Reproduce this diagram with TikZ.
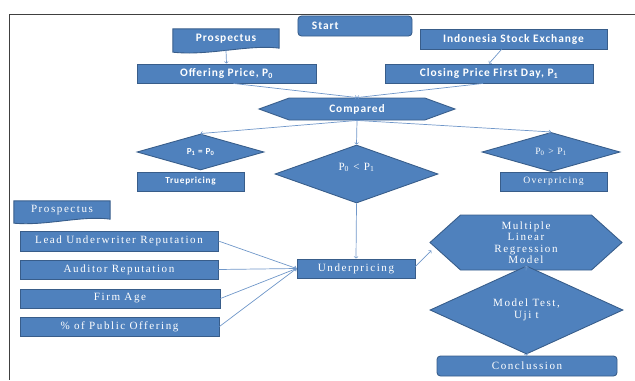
\documentclass[tikz,border=0pt]{standalone}
\usepackage{fontspec}
\setmainfont{Liberation Serif}
\newfontfamily\calfont[LetterSpace=8]{Carlito}
\newfontfamily\timfont[LetterSpace=14]{Liberation Serif}
\usetikzlibrary{shapes.geometric,shapes.symbols,calc,backgrounds}

\definecolor{boxblue}{HTML}{4F81BD}
\definecolor{boxedge}{HTML}{385D8A}
\definecolor{linkblue}{HTML}{7097C9}
\definecolor{framegray}{HTML}{404040}

\tikzset{
  sz/.style 2 args={minimum width=#1*0.04cm, minimum height=#2*0.04cm},
  base/.style={fill=boxblue, draw=boxedge, line width=1pt, text=white, inner sep=1pt},
  topfont/.style={font=\calfont\bfseries\fontsize{13}{14}\selectfont},
  lowfont/.style={font=\timfont\fontsize{12.6}{13}\selectfont},
  smallfont/.style={font=\calfont\bfseries\fontsize{10.5}{12}\selectfont},
  topbox/.style={base, topfont},
  lowbox/.style={base, lowfont},
  rbox/.style={rounded corners=4pt},
  docnode/.style={inner sep=1pt, text=white},
  docfill/.style={fill=boxblue, draw=boxedge, line width=1pt},
  decide/.style={base, diamond, inner sep=0pt},
  hexa/.style={base, signal, signal to=east and west, inner sep=0pt},
  link/.style={draw=linkblue, line width=0.8pt},
}

\begin{document}
\begin{tikzpicture}[x=0.04cm, y=-0.04cm]
    \useasboundingbox (0,0) rectangle (635,380);
    \draw[framegray, line width=0.8pt] (635,14) -- (9,14) -- (9,380);

    % top row
    \node[topbox, rbox, minimum height=0.8cm, text width=3.44cm, inner xsep=0.56cm, align=left] (start) at (355,26) {Start};
    \node[docnode, topfont, sz={106}{19}] (pros1) at (226,38.5) {Prospectus};
    \node[topbox, sz={187}{20}] (ise) at (513.5,39) {Indonesia Stock Exchange};
    \node[topbox, sz={179}{19}] (offer) at (226.5,73.5) {Offering Price, P\textsubscript{0}};
    \node[topbox, sz={208}{19}] (close) at (489,73.5) {Closing Price First Day, P\textsubscript{1}};
    \node[hexa, topfont, signal pointer angle=40, sz={196}{22}] (compared) at (357,109) {Compared};

    % decisions
    \node[decide, smallfont, sz={127}{36}] (eqdia) at (200.5,152) {P\textsubscript{1} = P\textsubscript{0}};
    \node[base, smallfont, sz={107}{19}] (true) at (190.5,181.5) {Truepricing};
    \node[decide, sz={163}{46}, lowfont, align=center] (ltdia) at (356.5,174) {P\textsubscript{0} < P\textsubscript{1}\\[4pt]};
    \node[decide, sz={138}{36}, font=\timfont\fontsize{11}{12}\selectfont] (gtdia) at (551,152) {P\textsubscript{0} > P\textsubscript{1}};
    \node[base, sz={107}{19}, font=\timfont\fontsize{11}{12}\selectfont] (over) at (553.5,181.5) {Overpricing};

    % variables
    \node[docnode, lowfont, sz={96}{18}] (pros2) at (62,210) {Prospectus};
    \node[lowbox, sz={198}{20}] (lead) at (119,241) {Lead Underwriter Reputation};
    \node[lowbox, sz={198}{19}] (aud) at (119,269.5) {Auditor Reputation};
    \node[lowbox, sz={200}{19}] (age) at (120,298.5) {Firm Age};
    \node[lowbox, sz={199}{19}] (pub) at (119.5,326.5) {\% of Public Offering};

    % analysis
    \node[lowbox, sz={118}{19}] (under) at (356,268.5) {Underpricing};
    \node[hexa, lowfont, signal pointer angle=84, sz={192}{55}, align=center] (mlr) at (526,242.5) {Multiple\\Linear\\Regression\\Model};
    \node[decide, lowfont, sz={193}{50}, align=center] (test) at (526.5,310) {Model Test,\\ Uji t};
    \node[lowbox, rbox, sz={180}{20}] (concl) at (527,366) {Conclussion};

    \begin{pgfonlayer}{background}
        \path[docfill] (pros1.north west) -- (pros1.north east) -- (pros1.south east)
            .. controls ($(pros1.south east)+(-30,-4)$) and ($(pros1.south west)+(35,8)$) .. ($(pros1.south west)+(0,4)$) -- cycle;
        \path[docfill] (pros2.north west) -- (pros2.north east) -- (pros2.south east)
            .. controls ($(pros2.south east)+(-28,-4)$) and ($(pros2.south west)+(32,7)$) .. ($(pros2.south west)+(0,4)$) -- cycle;
    \end{pgfonlayer}

    % connectors
    \draw[link,->] ($(pros1.south)+(0,2)$) -- (offer.north);
    \draw[link,->] ($(ise.south)+(-12,0)$) -- (close.north);
    \draw[link,->] ($(offer.south)+(7,0)$) -- (compared.north);
    \draw[link,->] ($(close.south)+(-6,0)$) -- (compared.north);
    \draw[link,->] (compared.south) -- (eqdia.north);
    \draw[link,->] (compared.south) -- (gtdia.north);
    \draw[link,->] (compared.south) -- (ltdia.north);
    \draw[link,->] (ltdia.south) -- (under.north);
    \foreach \v in {lead,aud,age,pub}
        \draw[link,->] (\v.east) -- (under.west);
    \draw[link,->] ($(under.east)+(0,-2)$) -- ($(mlr.west)+(2,8)$);
    \draw[link,->] (mlr.south) -- (test.north);
    \draw[link,->] (test.south) -- (concl.north);
\end{tikzpicture}
\end{document}
